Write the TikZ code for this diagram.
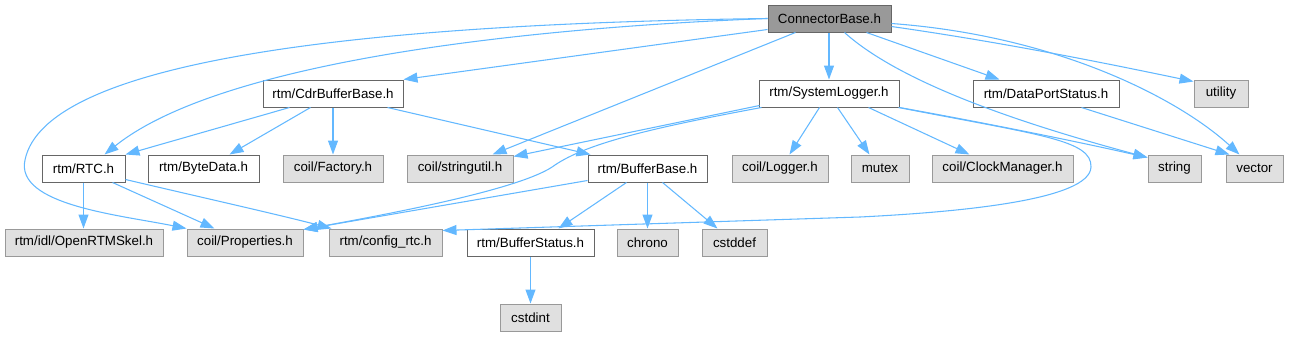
\documentclass[tikz,border=0pt]{standalone}
\usepackage{fontspec}
\setmainfont{Liberation Sans}
\usetikzlibrary{arrows.meta,calc}
\definecolor{edgeblue}{HTML}{63B8FF}
\definecolor{grayfill}{HTML}{E0E0E0}
\definecolor{grayline}{HTML}{999999}
\definecolor{darkline}{HTML}{666666}
\definecolor{darkfill}{HTML}{999999}
\begin{document}
\begin{tikzpicture}[x=0.75pt,y=-0.75pt,
  basebox/.style={rectangle,minimum height=27*0.75pt,inner sep=0pt,line width=0.75pt,font=\fontsize{10}{12}\selectfont},
  wbox/.style={basebox,draw=darkline,fill=white},
  gbox/.style={basebox,draw=grayline,fill=grayfill},
  dbox/.style={basebox,draw=darkline,fill=darkfill},
  e/.style={draw=edgeblue,line width=0.8pt,-{Triangle[length=10.5pt,width=7.5pt]}}]
\useasboundingbox (0,0) rectangle (1289,336);
% row 0
\node[dbox,minimum width=123*0.75pt] (cb) at (829.5,18.5) {ConnectorBase.h};
% row 1
\node[wbox,minimum width=140*0.75pt] (cdr) at (333,93.5) {rtm/CdrBufferBase.h};
\node[wbox,minimum width=140*0.75pt] (slog) at (829,93.5) {rtm/SystemLogger.h};
\node[wbox,minimum width=146*0.75pt] (dps) at (1046,93.5) {rtm/DataPortStatus.h};
\node[gbox,minimum width=54*0.75pt] (util) at (1221,93.5) {utility};
% row 2
\node[wbox,minimum width=83*0.75pt] (rtc) at (83.5,168.5) {rtm/RTC.h};
\node[wbox,minimum width=111*0.75pt] (byte) at (203.5,168.5) {rtm/ByteData.h};
\node[gbox,minimum width=100*0.75pt] (fact) at (333,168.5) {coil/Factory.h};
\node[gbox,minimum width=106*0.75pt] (sutil) at (460,168.5) {coil/stringutil.h};
\node[wbox,minimum width=119*0.75pt] (bbase) at (647.5,168.5) {rtm/BufferBase.h};
\node[gbox,minimum width=96*0.75pt] (logger) at (780,168.5) {coil/Logger.h};
\node[gbox,minimum width=58*0.75pt] (mutex) at (880,168.5) {mutex};
\node[gbox,minimum width=141*0.75pt] (clock) at (1002.5,168.5) {coil/ClockManager.h};
\node[gbox,minimum width=53*0.75pt] (string) at (1174.5,168.5) {string};
\node[gbox,minimum width=57*0.75pt] (vector) at (1254.5,168.5) {vector};
% row 3
\node[gbox,minimum width=158*0.75pt] (skel) at (84,242.5) {rtm/idl/OpenRTMSkel.h};
\node[gbox,minimum width=116*0.75pt] (prop) at (245,242.5) {coil/Properties.h};
\node[gbox,minimum width=113*0.75pt] (cfg) at (385.5,242.5) {rtm/config\_rtc.h};
\node[wbox,minimum width=127*0.75pt] (bstat) at (530.5,242.5) {rtm/BufferStatus.h};
\node[gbox,minimum width=61*0.75pt] (chrono) at (647.5,242.5) {chrono};
\node[gbox,minimum width=65*0.75pt] (cstddef) at (734.5,242.5) {cstddef};
% row 4
\node[gbox,minimum width=61*0.75pt] (cstdint) at (530.5,317.5) {cstdint};

% edges from ConnectorBase
\draw[e] ($(cb.south west)+(0,-3)$) -- (cdr.north east);
\draw[e] ($(cb.north west)+(0,14)$) .. controls (520,28) and (220,62) .. ($(rtc.north west)+(63,0)$);
\draw[e] ($(cb.north west)+(0,14)$) .. controls (350,24) and (45,62) .. (25,160)
   .. controls (15,205) and (120,215) .. (prop.north west);
\draw[e] ($(cb.south west)+(28,0)$) -- ($(sutil.north west)+(86,0)$);
\draw[e] (cb.south -| slog.north) -- (slog.north);
\draw[e] ($(cb.south west)+(77,0)$) .. controls (895,78) and (1000,118) .. ($(string.north west)+(0,3)$);
\draw[e] ($(cb.south west)+(99,0)$) -- ($(dps.north west)+(27,0)$);
\draw[e] ($(cb.north east)+(0,22)$) .. controls (1000,42) and (1100,62) .. ($(util.north west)+(0,2)$);
\draw[e] ($(cb.north east)+(0,19)$) .. controls (1060,36) and (1180,100) .. ($(vector.north west)+(14,0)$);
% edges from CdrBufferBase
\draw[e] ($(cdr.south west)+(27,0)$) -- (rtc.north east);
\draw[e] ($(cdr.south west)+(48,0)$) -- ($(byte.north west)+(82,0)$);
\draw[e] (cdr.south) -- (fact.north);
\draw[e] ($(cdr.south west)+(125,0)$) -- ($(bbase.north west)+(3,0)$);
% edges from RTC
\draw[e] (rtc.south) -- (rtc.south |- skel.north);
\draw[e] ($(rtc.south west)+(71,0)$) -- ($(prop.north west)+(28,0)$);
\draw[e] ($(rtc.north east)+(0,25)$) .. controls (200,197) and (280,215) .. ($(cfg.north west)+(3,0)$);
% edges from SystemLogger
\draw[e] ($(slog.south west)+(1,-2)$) -- ($(sutil.north east)+(0,2)$);
\draw[e] ($(slog.south west)+(3,0)$) .. controls (640,130) and (585,145) .. (555,165)
   .. controls (525,188) and (400,212) .. ($(prop.north east)+(0,1)$);
\draw[e] ($(slog.south west)+(61,0)$) -- ($(logger.north west)+(58,0)$);
\draw[e] ($(slog.south west)+(79,0)$) -- ($(mutex.north west)+(19,0)$);
\draw[e] ($(slog.south west)+(110,0)$) -- ($(clock.north west)+(38,0)$);
\draw[e] (slog.south east) .. controls (980,122) and (1070,140) .. ($(string.north west)+(0,3)$);
\draw[e] ($(slog.south east)+(-1,0)$) .. controls (1040,135) and (1092,140) .. (1091,167)
   .. controls (1090,200) and (960,212) .. (860,217) -- ($(cfg.north east)+(0,2)$);
% DataPortStatus
\draw[e] ($(dps.south west)+(109,0)$) -- ($(vector.north west)+(4,0)$);
% BufferBase
\draw[e] ($(bbase.south west)+(39,0)$) -- ($(bstat.north west)+(92,0)$);
\draw[e] (bbase.south) -- (chrono.north);
\draw[e] ($(bbase.south west)+(75,0)$) -- ($(cstddef.north west)+(16,0)$);
\draw[e] ($(bbase.south west)+(0,-2)$) -- ($(prop.north east)+(0,1)$);
% BufferStatus
\draw[e] (bstat.south) -- (cstdint.north);
\end{tikzpicture}
\end{document}
